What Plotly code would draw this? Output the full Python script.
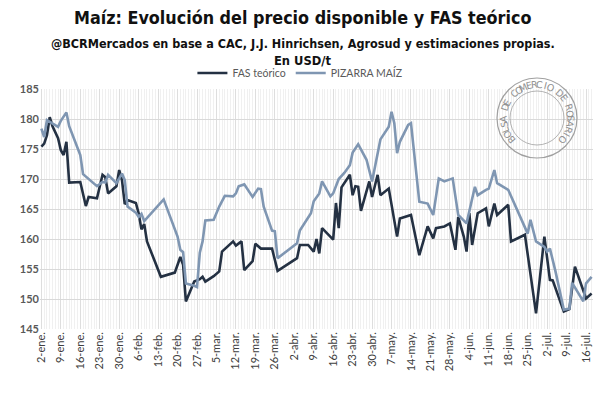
import math
import pandas as pd
import plotly.graph_objects as go

# ---------------- data ----------------
base_date = "2019-01-02"

fas_days = [0, 1, 2, 3, 4, 6, 7, 8, 9, 10, 14, 16, 17, 20, 22, 23, 24, 27, 28, 29, 30, 31,
            34, 35, 36, 37, 38, 43, 48, 50, 51, 52, 55, 57, 58, 59, 62, 64, 65, 68, 69, 70,
            72, 73, 76, 77, 79, 83, 84, 85, 92, 93, 96, 97, 98, 99, 100, 101, 104, 105, 106,
            107, 108, 111, 112, 113, 114, 115, 118, 119, 121, 122, 125, 128, 129, 133, 136,
            139, 141, 142, 145, 147, 149, 150, 152, 153, 154, 155, 157, 160, 161, 163, 164,
            168, 169, 174, 178, 181, 183, 184, 188, 190, 192, 196, 198]
fas_vals = [175.4, 175.9, 177.3, 180.3, 178.8, 176.8, 174.8, 174.0, 176.2, 169.4, 169.5,
            165.5, 167.0, 166.8, 170.7, 170.3, 167.6, 168.8, 171.5, 169.8, 165.8, 166.5,
            166.0, 164.3, 161.6, 162.5, 159.6, 153.7, 154.4, 157.0, 155.7, 149.6, 152.9,
            153.3, 153.7, 152.9, 153.8, 154.6, 157.9, 159.2, 159.6, 158.9, 159.6, 154.8,
            156.3, 159.2, 158.4, 158.4, 156.5, 154.7, 156.8, 159.0, 159.0, 158.4, 157.9,
            160.0, 157.6, 161.8, 160.4, 159.9, 166.0, 161.8, 168.6, 170.7, 167.3, 168.8,
            168.7, 164.7, 169.6, 167.0, 170.7, 167.3, 168.4, 160.4, 163.4, 164.0, 157.3,
            162.1, 160.1, 161.8, 162.1, 162.6, 158.2, 163.7, 160.4, 157.9, 164.3, 159.0,
            164.3, 165.1, 162.1, 165.9, 164.0, 165.7, 159.6, 160.7, 147.6, 160.4, 153.2,
            153.1, 147.9, 148.3, 155.4, 150.1, 150.9]

piz_days = [0, 1, 2, 3, 6, 7, 8, 9, 10, 14, 15, 17, 20, 22, 23, 24, 27, 29, 30, 31, 34, 35,
            36, 37, 44, 49, 50, 51, 52, 55, 56, 57, 58, 59, 62, 64, 66, 69, 70, 71, 73, 76,
            78, 79, 80, 83, 84, 85, 92, 93, 95, 97, 98, 100, 101, 104, 105, 107, 109, 111,
            112, 114, 117, 119, 122, 125, 126, 127, 128, 129, 132, 133, 136, 139, 141, 143,
            145, 146, 148, 150, 153, 156, 157, 160, 161, 163, 164, 168, 175, 176, 178, 181,
            182, 183, 185, 188, 190, 191, 195, 196, 198]
piz_vals = [178.4, 177.0, 179.8, 179.5, 178.7, 179.7, 180.3, 181.1, 178.8, 174.0, 170.8,
            170.0, 168.8, 169.5, 169.4, 170.7, 169.3, 170.9, 169.8, 165.4, 164.4, 163.7,
            164.2, 163.0, 166.6, 160.4, 158.2, 157.8, 152.6, 152.2, 152.0, 157.7, 159.6,
            163.1, 163.2, 165.4, 167.2, 167.1, 167.6, 168.8, 169.1, 167.0, 168.4, 168.3,
            165.4, 161.4, 161.3, 156.8, 159.3, 161.4, 162.9, 164.3, 166.3, 167.6, 169.6,
            167.1, 167.6, 170.0, 171.0, 172.3, 174.4, 175.8, 173.2, 169.6, 176.6, 178.7,
            181.2, 179.3, 174.3, 176.2, 179.0, 179.3, 166.2, 165.9, 164.0, 170.1, 169.6,
            169.8, 170.1, 164.0, 162.6, 168.7, 167.3, 168.2, 168.4, 171.5, 169.3, 168.2,
            160.9, 163.2, 159.6, 158.7, 157.9, 158.4, 154.6, 148.2, 148.4, 152.7, 149.6,
            152.6, 153.7]

tick_labels = ["2-ene.", "9-ene.", "16-ene.", "23-ene.", "30-ene.", "6-feb.", "13-feb.",
               "20-feb.", "27-feb.", "5-mar.", "12-mar.", "19-mar.", "26-mar.", "2-abr.",
               "9-abr.", "16-abr.", "23-abr.", "30-abr.", "7-may.", "14-may.", "21-may.",
               "28-may.", "4-jun.", "11-jun.", "18-jun.", "25-jun.", "2-jul.", "9-jul.",
               "16-jul."]

series_names = ["FAS teórico", "PIZARRA MAÍZ"]
y_ticks = [145, 150, 155, 160, 165, 170, 175, 180, 185]

# ---------------- figure ----------------
b = pd.Timestamp(base_date)
fas_x = [b + pd.Timedelta(days=d) for d in fas_days]
piz_x = [b + pd.Timedelta(days=d) for d in piz_days]
tick_x = [b + pd.Timedelta(days=7 * i) for i in range(len(tick_labels))]

W, H = 603, 393
ML, MR, MT, MB = 40, 10, 89, 64
PW, PH = W - ML - MR, H - MT - MB

fig = go.Figure()
fig.add_trace(go.Scatter(x=fas_x, y=fas_vals, mode="lines", name=series_names[0],
                         line=dict(color="#243143", width=2.6)))
fig.add_trace(go.Scatter(x=piz_x, y=piz_vals, mode="lines", name=series_names[1],
                         line=dict(color="#7f96b2", width=2.6)))


def px2paper(px, py):
    return (px - ML) / PW, (H - MB - py) / PH


# title block
txt_font = "DejaVu Sans Condensed, DejaVu Sans, sans-serif"
for text, py, size in [("<b>Maíz: Evolución del precio disponible y FAS teórico</b>", 18, 17.8),
                       ("<b>@BCRMercados en base a CAC, J.J. Hinrichsen, Agrosud y estimaciones propias.</b>", 43, 12.5),
                       ("<b>En USD/t</b>", 60, 12.8)]:
    xp, yp = px2paper(W / 2 + 1, py)
    fig.add_annotation(text=text, x=xp, y=yp, xref="paper", yref="paper", showarrow=False,
                       xanchor="center", yanchor="middle",
                       font=dict(family=txt_font, size=size, color="#111111"))

# watermark seal (Bolsa de Comercio de Rosario)
cx, cy, R = 537, 118, 40
for r, w in [(R, 1.2), (R - 13, 0.8)]:
    x0, y0 = px2paper(cx - r, cy + r)
    x1, y1 = px2paper(cx + r, cy - r)
    fig.add_shape(type="circle", xref="paper", yref="paper", x0=x0, y0=y0, x1=x1, y1=y1,
                  line=dict(color="#a0a0a0", width=w))
seal = "BOLSA DE COMERCIO DE ROSARIO"
a_start, a_end = 220, -40
n = len(seal)
for i, ch in enumerate(seal):
    if ch == " ":
        continue
    th = a_start + (a_end - a_start) * i / (n - 1)
    rr = R - 6.5
    px = cx + rr * math.cos(math.radians(th))
    py = cy - rr * math.sin(math.radians(th))
    xp, yp = px2paper(px, py)
    fig.add_annotation(text=ch, x=xp, y=yp, xref="paper", yref="paper", showarrow=False,
                       textangle=90 - th, xanchor="center", yanchor="middle",
                       font=dict(family="DejaVu Sans", size=9.5, color="#8f8f8f"))

fig.update_layout(
    width=W, height=H,
    margin=dict(l=ML, r=MR, t=MT, b=MB),
    paper_bgcolor="white", plot_bgcolor="white",
    showlegend=True,
    legend=dict(orientation="h", x=0.47, y=px2paper(0, 73)[1], xanchor="center",
                yanchor="middle", font=dict(family="Lato, sans-serif", size=10.5, color="#595959"),
                itemwidth=30, tracegroupgap=0, bgcolor="rgba(0,0,0,0)"),
    xaxis=dict(type="date",
               range=[b - pd.Timedelta(hours=12), b + pd.Timedelta(days=198, hours=12)],
               tickmode="array", tickvals=tick_x, ticktext=tick_labels, tickangle=-90,
               tickfont=dict(family="Lato, sans-serif", size=11, color="#404040"),
               showgrid=True, gridcolor="#dedede", gridwidth=1,
               minor=dict(dtick=86400000, showgrid=True, gridcolor="#f0f0f0", gridwidth=1),
               showline=False, zeroline=False, ticks=""),
    yaxis=dict(range=[145, 185], tickvals=y_ticks,
               tickfont=dict(family="Lato, sans-serif", size=11, color="#595959", weight="bold"),
               showgrid=True, gridcolor="#d9d9d9", gridwidth=1, zeroline=False,
               showline=False, ticks=""),
)

fig.write_html("out.html", config={"displayModeBar": False})

# remove default page margin so the 603x393 figure fills the window exactly
with open("out.html", "r", encoding="utf-8") as f:
    html = f.read()
html = html.replace("<head>", "<head><style>html,body{margin:0;padding:0;overflow:hidden;}</style>", 1)
with open("out.html", "w", encoding="utf-8") as f:
    f.write(html)
